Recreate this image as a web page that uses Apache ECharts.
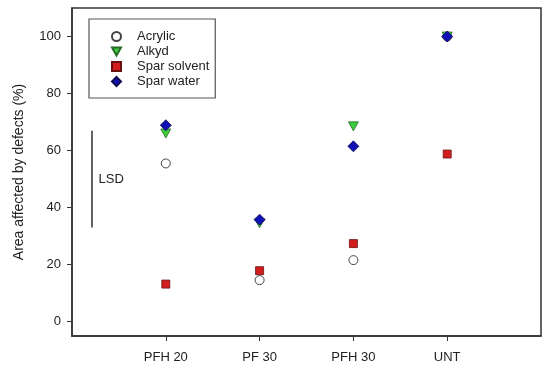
<!DOCTYPE html>
<html><head><meta charset="utf-8">
<script src="https://cdn.jsdelivr.net/npm/echarts@6/dist/echarts.min.js"></script>
<style>html,body{margin:0;padding:0;background:#fff}#c{width:550px;height:372px}</style>
</head><body><div id="c"></div>
<script>
var categories = ['PFH 20', 'PF 30', 'PFH 30', 'UNT'];
var categoryPos = [1, 2, 3, 4];
var acrylic = [55.5, 14.6, 21.6, 100];
var alkyd = [66, 34.5, 68.5, 100];
var sparSolvent = [13.2, 17.9, 27.4, 58.8];
var sparWater = [68.9, 35.8, 61.5, 100];
var yTicks = [0, 20, 40, 60, 80, 100];
var lsdX = 0.213;
var lsdRange = [33, 67];
var lsdLabelY = 50;

function pts(vals) { return vals.map(function (v, i) { return [categoryPos[i], v]; }); }

var chart = echarts.init(document.getElementById('c'));
var font = 'Liberation Sans, Arial, sans-serif';
var triDown = 'path://M0,0 L10,0 L5,9 Z';
chart.setOption({
  animation: false,
  grid: { left: 72, top: 8, right: 9, bottom: 36, show: true, borderColor: '#333', borderWidth: 1.5, backgroundColor: 'transparent' },
  legend: {
    orient: 'vertical', left: 89, top: 19,
    padding: [11, 6, 10, 22],
    borderColor: '#555', borderWidth: 1.2,
    itemWidth: 9, itemHeight: 9, itemGap: 2,
    textStyle: { fontFamily: font, fontSize: 13, color: '#222', padding: [0, 0, 0, 11] },
    data: [
      { name: 'Acrylic', icon: 'circle' },
      { name: 'Alkyd', icon: triDown },
      { name: 'Spar solvent', icon: 'rect' },
      { name: 'Spar water', icon: 'diamond' }
    ]
  },
  xAxis: {
    type: 'value', min: 0, max: 5,
    axisLine: { show: true, onZero: false, lineStyle: { color: '#333', width: 1.5 } },
    axisTick: { show: true, customValues: categoryPos, length: 5, lineStyle: { color: '#333' } },
    axisLabel: { customValues: categoryPos, margin: 15, fontFamily: font, fontSize: 13, color: '#222',
      formatter: function (v) { return categories[Math.round(v) - 1] || ''; } },
    splitLine: { show: false }
  },
  yAxis: {
    type: 'value', min: -5, max: 110,
    name: 'Area affected by defects (%)', nameLocation: 'middle', nameGap: 46,
    nameTextStyle: { fontFamily: font, fontSize: 14, color: '#222' },
    axisLine: { show: true, onZero: false, lineStyle: { color: '#333', width: 1.5 } },
    axisTick: { show: true, customValues: yTicks, length: 5, lineStyle: { color: '#333' } },
    axisLabel: { customValues: yTicks, margin: 11, fontFamily: font, fontSize: 13, color: '#222' },
    splitLine: { show: false }
  },
  series: [
    { name: 'Acrylic', type: 'scatter', symbol: 'circle', symbolSize: 9, z: 2,
      itemStyle: { color: '#fff', borderColor: '#444', borderWidth: 1, opacity: 1 }, data: pts(acrylic) },
    { name: 'Alkyd', type: 'scatter', symbol: triDown, symbolSize: [10, 9], z: 3,
      itemStyle: { color: '#3ccc3c', borderColor: '#2a6a2a', borderWidth: 0.8, opacity: 1 }, data: pts(alkyd) },
    { name: 'Spar solvent', type: 'scatter', symbol: 'rect', symbolSize: 8, z: 4,
      itemStyle: { color: '#d41e1e', borderColor: '#6a1010', borderWidth: 0.8, opacity: 1 }, data: pts(sparSolvent) },
    { name: 'Spar water', type: 'scatter', symbol: 'diamond', symbolSize: [11, 11], z: 5,
      itemStyle: { color: '#1010b4', borderColor: '#0a0a50', borderWidth: 0.8, opacity: 1 }, data: pts(sparWater) },
    { name: 'LSD', type: 'line', symbol: 'none', silent: true, z: 1,
      lineStyle: { color: '#111', width: 1.3 },
      data: [[lsdX, lsdRange[0]], [lsdX, lsdRange[1]]],
      markPoint: {
        symbol: 'rect', symbolSize: 1, itemStyle: { color: 'transparent' },
        label: { show: true, formatter: 'LSD', position: 'right', distance: 6, fontFamily: font, fontSize: 13, color: '#222' },
        data: [{ coord: [lsdX, lsdLabelY] }]
      }
    }
  ]
});
</script></body></html>
